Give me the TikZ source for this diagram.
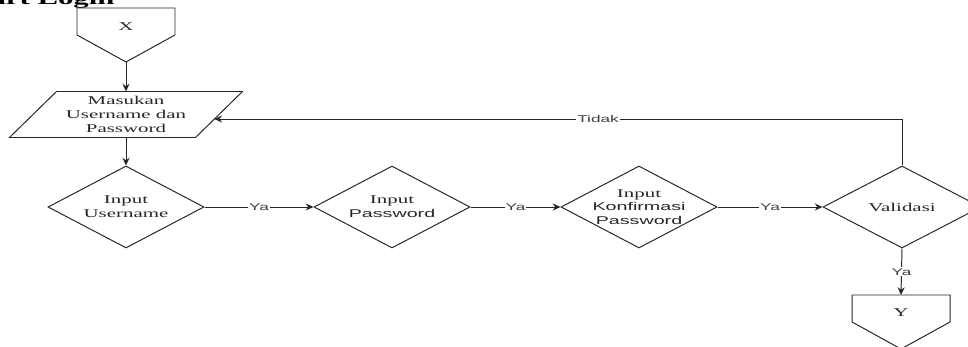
\documentclass[tikz,border=0pt]{standalone}
\usepackage{fontspec}
\setmainfont{Liberation Serif}[FakeStretch=1.75]
\newfontfamily\edgefont{Liberation Sans}[FakeStretch=1.75]
\usetikzlibrary{arrows.meta,positioning,calc,shapes.geometric}

% second and third lines of some boxes are set in sans
\newcommand{\sansline}[1]{{\edgefont\fontsize{8}{9.8}\selectfont #1}}

\begin{document}
\begin{tikzpicture}[
  x=0.025cm, y=-0.025cm,
  >={Stealth[length=5.5pt,width=5pt]}, line width=0.7pt,
  shapeline/.style={draw=black!85, line width=0.7pt},
  decision/.style={diamond, shapeline, minimum width=3.9cm, minimum height=2.05cm, inner sep=0pt},
  boxtext/.style={align=center, inner sep=0pt, text=black!85, font=\fontsize{8.5}{9.8}\selectfont},
  flow/.style={->, draw=black!85, line width=0.7pt},
  edgelbl/.style={fill=white, inner sep=0.6pt, text=black!75, font=\edgefont\fontsize{7}{8}\selectfont},
  heading/.style={anchor=base east, inner sep=0pt, font=\bfseries\fontsize{12.5}{14}\selectfont}
]
  \clip (0,0) rectangle (968,347);

  % --- title (runs off the top edge) ---
  \node[heading] (title) at (115,4.5) {Flowchart Login};

  % --- off-page connector X ---
  \node[boxtext] (conX) at (126,27) {X};
  \draw[shapeline] ($(conX)+(-49,-19)$) -- ++(98,0) -- ++(0,27) -- ++(-49,27) -- ++(-49,-27) -- cycle;
  \coordinate (conXtip) at ($(conX)+(0,35)$);

  % --- input parallelogram ---
  \node[boxtext, minimum width=4.625cm, minimum height=1.125cm] (inp) at (126,114.5)
       {Masukan\\Username dan\\Password};
  \draw[shapeline] ($(inp.south west)+(-23.5,0)$) -- ($(inp.south east)+(-23.5,0)$)
       -- ($(inp.north east)+(23.5,0)$) -- ($(inp.north west)+(23.5,0)$) -- cycle;
  \coordinate (inpin) at ($(inp.east)+(-4.7,4.5)$);

  % --- decisions ---
  \node[decision] (d1) at (126,207) {};
  \node[boxtext] (d1txt) at (d1) {Input\\Username};
  \node[decision] (d2) at (392,207) {};
  \node[boxtext] (d2txt) at (d2) {Input\\\sansline{Password}};
  \node[decision] (d3) at (639,207) {};
  \node[boxtext] (d3txt) at (d3) {Input\\\sansline{Konfirmasi}\\\sansline{Password}};
  \node[decision, minimum width=3.95cm] (d4) at (902,207) {};
  \node[boxtext] (d4txt) at (d4) {Validasi};

  % --- off-page connector Y ---
  \node[boxtext] (conY) at (901,313) {Y};
  \draw[shapeline] ($(conY)+(-49,-18)$) -- ++(98,0) -- ++(0,27) -- ++(-49,27) -- ++(-49,-27) -- cycle;
  \coordinate (conYtop) at ($(conY)+(0,-18)$);

  % --- connectors ---
  \draw[flow] (conXtip) -- (inp.north);
  \draw[flow] (inp.south) -- (d1.north);
  \draw[flow] (d1.east) -- node[edgelbl] {Ya} (d2.west);
  \draw[flow] (d2.east) -- node[edgelbl] {Ya} (d3.west);
  \draw[flow] (d3.east) -- node[edgelbl] {Ya} (d4.west);
  \draw[flow] (d4.north) |- node[edgelbl, pos=0.721] {Tidak} (inpin);
  \draw[flow] (d4.south) -- node[edgelbl] {Ya} (conYtop);
\end{tikzpicture}
\end{document}
